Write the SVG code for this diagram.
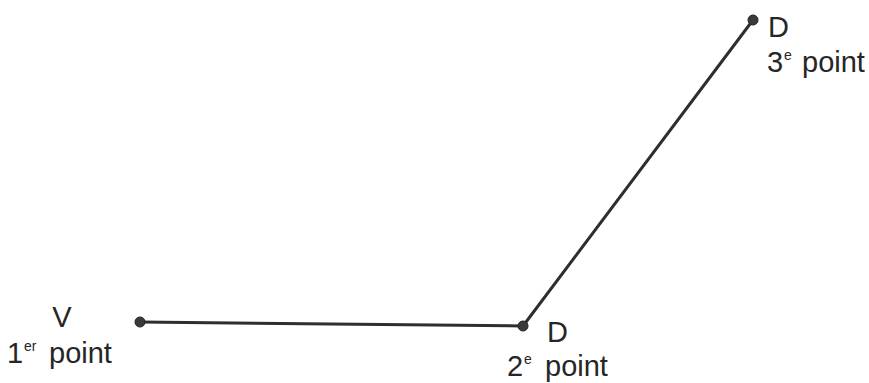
<svg xmlns="http://www.w3.org/2000/svg" width="869" height="383" viewBox="0 0 869 383">
<style>
.t{font-family:"Liberation Sans","Arial",sans-serif;font-size:29px;fill:#262626}
.s{font-family:"Liberation Sans","Arial",sans-serif;font-size:14px;fill:#262626}
.dot{fill:#3a3a3a;stroke:#222;stroke-width:1}
.ln{stroke:#2e2e2e;stroke-width:3;fill:none;stroke-linecap:round;stroke-linejoin:round}
</style>
<rect width="869" height="383" fill="#ffffff"/>
<g id="connectors">
<path class="ln" d="M140,322 L523,326 L753,20"/>
</g>
<g id="node-v">
<circle class="dot" cx="140" cy="322" r="5"/>
<text class="t" x="62" y="327" text-anchor="middle">V</text>
<text class="t" x="7" y="363">1</text>
<text class="s" x="24" y="351">er</text>
<text class="t" x="49" y="363">point</text>
</g>
<g id="node-d2">
<circle class="dot" cx="523" cy="326" r="5"/>
<text class="t" x="547" y="342">D</text>
<text class="t" x="507" y="376">2</text>
<text class="s" x="524" y="364">e</text>
<text class="t" x="545" y="376">point</text>
</g>
<g id="node-d3">
<circle class="dot" cx="753" cy="20" r="5"/>
<text class="t" x="768" y="37">D</text>
<text class="t" x="767" y="72">3</text>
<text class="s" x="784" y="60">e</text>
<text class="t" x="802" y="72">point</text>
</g>
</svg>
